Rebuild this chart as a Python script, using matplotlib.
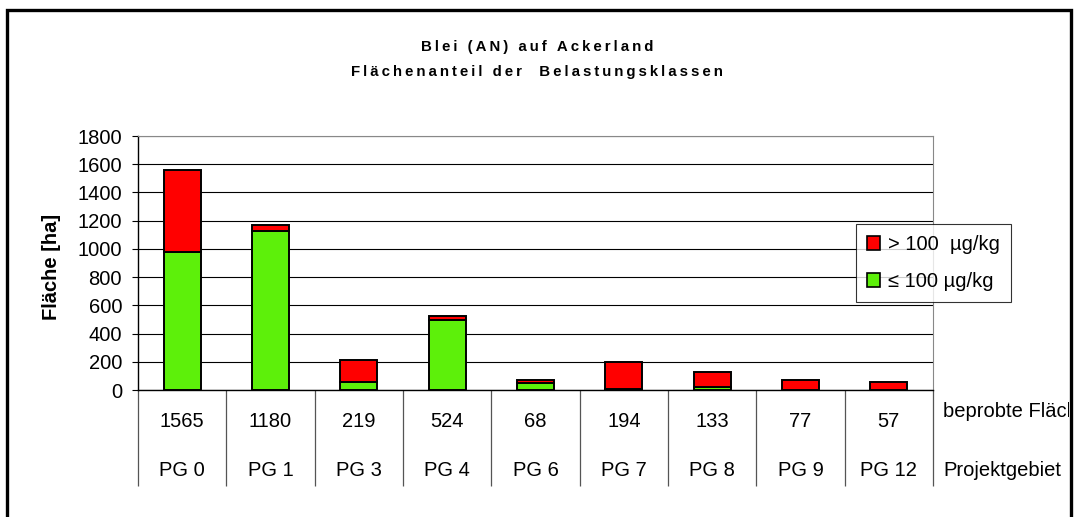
import matplotlib.pyplot as plt
import matplotlib.transforms as mtransforms
from matplotlib.patches import Patch, Rectangle
import numpy as np

plt.rcParams['font.family'] = ['Liberation Sans', 'DejaVu Sans']

gebiete = ["PG 0", "PG 1", "PG 3", "PG 4", "PG 6", "PG 7", "PG 8", "PG 9", "PG 12"]
beprobt = [1565, 1180, 219, 524, 68, 194, 133, 77, 57]
bis_100 = [975, 1125, 55, 495, 52, 5, 22, 0, 0]      # <= 100 µg/kg
ueber_100 = [585, 45, 155, 30, 16, 193, 108, 72, 58]  # > 100 µg/kg
yticks = list(range(0, 1801, 200))

rot = "#FF0000"
gruen = "#5DF00A"
fs = 14.5


def sperren(s):
    # Excel-artige Zeichensperrung im Titel
    return "\u2009".join(s)


fig = plt.figure(figsize=(10.74, 5.17), dpi=100)
ax = fig.add_axes([138/1074, 1 - 390/517, 795/1074, 254/517])

x = np.arange(len(gebiete))
w = 0.42
ax.bar(x, bis_100, width=w, color=gruen, edgecolor="black", linewidth=1.4, zorder=3)
ax.bar(x, ueber_100, width=w, bottom=bis_100, color=rot, edgecolor="black", linewidth=1.4, zorder=3)

ax.set_xlim(-0.5, len(gebiete) - 0.5)
ax.set_ylim(0, 1800)
ax.set_yticks(yticks)
ax.tick_params(axis="y", labelsize=fs, length=4.5, direction="out", width=0.8, pad=7)
ax.set_xticks([])
ax.grid(axis="y", color="black", linewidth=0.8, zorder=0)
ax.set_axisbelow(True)
ax.spines["top"].set_color("#888888")
ax.spines["right"].set_color("#888888")
ax.spines["left"].set_linewidth(1.0)
ax.spines["bottom"].set_linewidth(1.0)

ax.set_ylabel("Fläche [ha]", fontsize=fs, fontweight="bold")
ax.yaxis.set_label_coords(-0.097, 0.484)

# Datentabelle unter der Achse
trans = mtransforms.blended_transform_factory(ax.transData, ax.transAxes)
grenzen = np.arange(len(gebiete) + 1) - 0.5
ax.vlines(grenzen, -0.378, 0, transform=trans, colors="#555555", linewidth=0.9, clip_on=False)
for i, (n, g) in enumerate(zip(beprobt, gebiete)):
    ax.text(i, -0.125, str(n), transform=trans, ha="center", va="center", fontsize=fs)
    ax.text(i, -0.315, g, transform=trans, ha="center", va="center", fontsize=fs)

# Zeilenbeschriftung rechts, wie im Original vom Rahmen abgeschnitten
clip = mtransforms.TransformedBbox(mtransforms.Bbox([[0, 0], [1069/1074, 1]]), fig.transFigure)
for y, s in [(-0.085, "beprobte Fläche"), (-0.315, "Projektgebiet")]:
    t = ax.text(1.0126, y, s, transform=ax.transAxes, ha="left", va="center", fontsize=fs)
    t.set_clip_box(clip)
    t.set_clip_on(True)

# Titel
fig.text(537/1074, 1 - 47/517, sperren("Blei (AN) auf Ackerland"), ha="center", va="center",
         fontsize=10.8, fontweight="bold")
fig.text(537/1074, 1 - 72/517, sperren("Flächenanteil der  Belastungsklassen"), ha="center", va="center",
         fontsize=10.8, fontweight="bold")

handles = [Patch(facecolor=rot, edgecolor="black", linewidth=1.2, label="> 100  µg/kg"),
           Patch(facecolor=gruen, edgecolor="black", linewidth=1.2, label="≤ 100 µg/kg")]
leg = fig.legend(handles=handles, loc="upper left", bbox_to_anchor=(856/1074, 1 - 224/517),
                 fontsize=fs, frameon=True, fancybox=False, borderaxespad=0,
                 handlelength=0.65, handleheight=0.65, handletextpad=0.4,
                 labelspacing=0.9, borderpad=0.55)
leg.get_frame().set_edgecolor("black")
leg.get_frame().set_linewidth(0.8)

# Rahmen um das Diagramm
fig.patches.append(Rectangle((7/1074, -0.1), 1064/1074, 1.1 - 10/517, transform=fig.transFigure,
                             fill=False, edgecolor="black", linewidth=2.4, zorder=10))

fig.savefig("out.png", dpi=100)
